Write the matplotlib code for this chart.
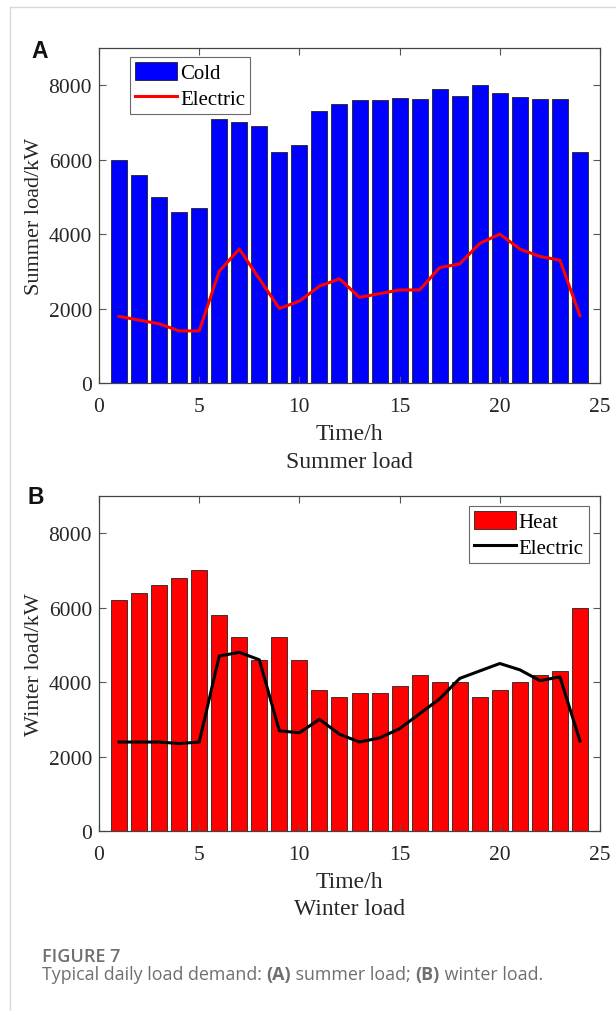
#!/usr/bin/env python3
import matplotlib
matplotlib.use("Agg")
import matplotlib.pyplot as plt
from matplotlib.lines import Line2D

HOURS = list(range(1, 25))
SUMMER_COLD = [6000, 5600, 5000, 4600, 4700, 7100, 7000, 6900, 6200, 6400, 7300, 7500,
               7600, 7600, 7650, 7620, 7900, 7700, 8000, 7800, 7680, 7630, 7620, 6200]
SUMMER_ELEC = [1790, 1690, 1590, 1400, 1400, 3000, 3600, 2800, 2000, 2200, 2600, 2800,
               2300, 2400, 2500, 2500, 3100, 3200, 3750, 4000, 3600, 3400, 3300, 1810]
WINTER_HEAT = [6200, 6400, 6600, 6800, 7000, 5800, 5200, 4600, 5200, 4600, 3800, 3600,
               3700, 3700, 3900, 4200, 4000, 4000, 3600, 3800, 4000, 4200, 4300, 6000]
WINTER_ELEC = [2390, 2390, 2390, 2350, 2390, 4700, 4800, 4600, 2690, 2640, 3000, 2600,
               2390, 2500, 2750, 3150, 3550, 4100, 4300, 4500, 4330, 4040, 4140, 2420]

SERIF = "Liberation Serif"
TXT = "#262626"
W, H = 616, 1012


def style_axes(ax, ylabel):
    ax.set_xlim(0, 25)
    ax.set_ylim(0, 9000)
    ax.set_xticks([0, 5, 10, 15, 20, 25])
    ax.set_yticks([0, 2000, 4000, 6000, 8000])
    ax.tick_params(direction="in", top=True, right=True, length=5, width=0.8,
                   color="#555555", labelsize=15.5, labelcolor=TXT)
    ax.tick_params(axis="x", pad=10)
    ax.tick_params(axis="y", pad=5)
    for lab in ax.get_xticklabels() + ax.get_yticklabels():
        lab.set_fontfamily(SERIF)
    for sp in ax.spines.values():
        sp.set_color("#444444")
        sp.set_linewidth(0.9)
    ax.set_ylabel(ylabel, fontsize=16, family=SERIF, color=TXT, labelpad=3)
    ax.set_xlabel("Time/h", fontsize=17, family=SERIF, color=TXT, labelpad=5)


def add_legend(ax, handles, loc, anchor):
    leg = ax.legend(handles=handles, loc=loc, bbox_to_anchor=anchor,
                    prop={"family": SERIF, "size": 15}, frameon=True, fancybox=False,
                    edgecolor="#444444", handlelength=2.0, handleheight=0.95,
                    handletextpad=0.15, borderpad=0.25, labelspacing=0.2, borderaxespad=0)
    leg.get_frame().set_linewidth(0.8)


def main():
    fig = plt.figure(figsize=(W / 100, H / 100), dpi=100)

    ax1 = fig.add_axes([99 / W, 1 - 384 / H, 501 / W, 335 / H])
    b1 = ax1.bar(HOURS, SUMMER_COLD, width=0.8, color="#0000ff", edgecolor="#222222",
                 linewidth=0.6, label="Cold")
    l1, = ax1.plot(HOURS, SUMMER_ELEC, color="#ff0000", linewidth=2.2, label="Electric")
    style_axes(ax1, "Summer load/kW")
    ax1.text(0.5, 1 - (462 - 49) / 335, "Summer load", transform=ax1.transAxes,
             ha="center", va="center", fontsize=17, family=SERIF, color=TXT)
    add_legend(ax1, [b1, l1], "upper left", (31 / 501, 1 - 9 / 335))

    ax2 = fig.add_axes([99 / W, 1 - 832 / H, 501 / W, 335 / H])
    b2 = ax2.bar(HOURS, WINTER_HEAT, width=0.8, color="#ff0000", edgecolor="#222222",
                 linewidth=0.6, label="Heat")
    l2, = ax2.plot(HOURS, WINTER_ELEC, color="#000000", linewidth=2.2, label="Electric")
    style_axes(ax2, "Winter load/kW")
    ax2.text(0.5, 1 - (910 - 497) / 335, "Winter load", transform=ax2.transAxes,
             ha="center", va="center", fontsize=17, family=SERIF, color=TXT)
    add_legend(ax2, [b2, l2], "upper right", (1 - 11 / 501, 1 - 10 / 335))

    fig.text(40 / W, 1 - 51 / H, "A", fontsize=16.5, fontweight="bold", family="Liberation Sans",
             va="center", ha="center", color="#111111")
    fig.text(36 / W, 1 - 498 / H, "B", fontsize=16.5, fontweight="bold", family="Liberation Sans",
             va="center", ha="center", color="#111111")

    # frame lines of the page
    fig.add_artist(Line2D([9.5 / W, 9.5 / W], [0, 1 - 7.5 / H], transform=fig.transFigure,
                          color="#d9d9d9", linewidth=1))
    fig.add_artist(Line2D([9.5 / W, 1], [1 - 7.5 / H, 1 - 7.5 / H], transform=fig.transFigure,
                          color="#d9d9d9", linewidth=1))

    grey = "#6f6f6f"
    fig.text(42 / W, 1 - 962 / H, "FIGURE 7", fontsize=13, family="Open Sans",
             fontweight="semibold", color=grey, va="baseline", ha="left")

    renderer = fig.canvas.get_renderer()
    pieces = [("Typical daily load demand: ", "normal"), ("(A)", "bold"), (" summer load; ", "normal"),
              ("(B)", "bold"), (" winter load.", "normal")]
    x = 42 / W
    for s, w in pieces:
        t = fig.text(x, 1 - 980 / H, s, fontsize=12.9, family="Open Sans", fontweight=w,
                     color=grey, va="baseline", ha="left")
        bb = t.get_window_extent(renderer=renderer)
        x += bb.width / fig.bbox.width

    fig.savefig("out.png", dpi=100)
    plt.close(fig)


if __name__ == "__main__":
    main()
